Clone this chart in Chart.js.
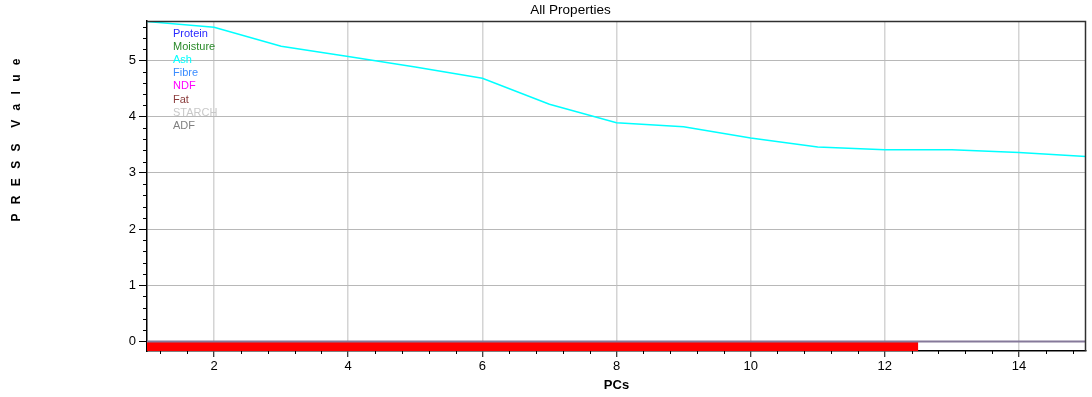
<!DOCTYPE html>
<html>
<head>
<meta charset="utf-8">
<script src="https://cdn.jsdelivr.net/npm/chart.js@4/dist/chart.umd.min.js"></script>
<style>
  html, body { margin: 0; padding: 0; background: #ffffff; }
  #wrap { width: 1092px; height: 397px; position: relative; }
</style>
</head>
<body>
<div id="wrap"><canvas id="press"></canvas></div>
<script>
// Number of principal components
const pcs = [1, 2, 3, 4, 5, 6, 7, 8, 9, 10, 11, 12, 13, 14, 15];
// PRESS values for Ash (the only property with a curve)
const ashPress = [5.69, 5.59, 5.25, 5.07, 4.88, 4.68, 4.22, 3.89, 3.82, 3.62, 3.46, 3.41, 3.41, 3.36, 3.29];
// Properties and their colours
const properties = ['Protein', 'Moisture', 'Ash', 'Fibre', 'NDF', 'Fat', 'STARCH', 'ADF'];
const propertyColors = ['#2a2aff', '#2a8a2a', '#00ffff', '#3a8cff', '#ff00ff', '#8b3c3c', '#c8c8c8', '#808080'];
const pressByProperty = { Ash: ashPress };
// Selected range of PCs (red band under the zero line)
const selectedPcs = [1, 12.5];
// Axis ticks
const xTickValues = [2, 4, 6, 8, 10, 12, 14];
const yTickValues = [0, 1, 2, 3, 4, 5];
const xRange = [1, 15];
const yRange = [-0.17, 5.70];

const FONT = 'Liberation Sans, Arial, sans-serif';

const datasets = properties.map((name, i) => ({
  label: name,
  data: (pressByProperty[name] || []).map((v, k) => ({ x: pcs[k], y: v })),
  borderColor: propertyColors[i],
  backgroundColor: propertyColors[i],
  borderWidth: 1.5,
  pointRadius: 0,
  tension: 0,
  fill: false,
  order: 1
}));

// zero baseline across the full PC range
datasets.push({
  label: '_zero',
  data: [{ x: xRange[0], y: 0 }, { x: xRange[1], y: 0 }],
  borderColor: '#85799a',
  borderWidth: 2,
  pointRadius: 0,
  fill: false,
  order: 0
});
// selected PCs band
datasets.push({
  label: '_selection',
  data: selectedPcs.map(x => ({ x: x, y: yRange[0] })),
  borderWidth: 0,
  borderColor: 'rgba(0,0,0,0)',
  backgroundColor: '#ff0000',
  pointRadius: 0,
  fill: 'origin',
  order: 2
});

// draws a string one glyph at a time with extra tracking, centred on (0,0)
function drawSpaced(ctx, text, tracking) {
  const chars = Array.from(text);
  const widths = chars.map(c => ctx.measureText(c).width);
  const total = widths.reduce((s, w) => s + w, 0) + tracking * (chars.length - 1);
  let x = -total / 2;
  ctx.textAlign = 'left';
  chars.forEach((c, i) => {
    ctx.fillText(c, x, 0);
    x += widths[i] + tracking;
  });
}

const decorations = {
  id: 'decorations',
  afterDatasetsDraw(chart) {
    const ctx = chart.ctx;
    const a = chart.chartArea;
    const xs = chart.scales.x, ys = chart.scales.y;
    ctx.save();
    // frame top & right
    ctx.strokeStyle = '#303030';
    ctx.lineWidth = 1.5;
    ctx.beginPath();
    ctx.moveTo(a.left, a.top + 0.5);
    ctx.lineTo(a.right - 0.5, a.top + 0.5);
    ctx.lineTo(a.right - 0.5, a.bottom);
    ctx.stroke();
    // minor ticks
    ctx.strokeStyle = '#000000';
    ctx.lineWidth = 1;
    ctx.beginPath();
    for (let v = 1.2; v < xRange[1]; v += 0.4) {
      const r = Math.round(v * 10) / 10;
      if (xTickValues.includes(r)) continue;
      const px = Math.round(xs.getPixelForValue(r)) + 0.5;
      ctx.moveTo(px, a.bottom);
      ctx.lineTo(px, a.bottom + 3);
    }
    for (let v = 0.2; v < yRange[1]; v += 0.2) {
      const r = Math.round(v * 10) / 10;
      if (Number.isInteger(r)) continue;
      const py = Math.round(ys.getPixelForValue(r)) + 0.5;
      ctx.moveTo(a.left, py);
      ctx.lineTo(a.left - 4, py);
    }
    ctx.stroke();

    // legend text inside the plot
    ctx.font = '11px ' + FONT;
    ctx.textBaseline = 'middle';
    ctx.textAlign = 'left';
    chart.data.datasets.filter(d => !d.label.startsWith('_')).forEach((d, i) => {
      ctx.fillStyle = d.borderColor;
      ctx.fillText(d.label, a.left + 26, a.top + 13 + i * 13.1);
    });

    // chart title
    ctx.fillStyle = '#000000';
    ctx.font = '13.5px ' + FONT;
    ctx.textAlign = 'center';
    ctx.fillText('All Properties', 570.5, 10);

    // y axis title with spaced letters
    ctx.translate(17, 140);
    ctx.rotate(-Math.PI / 2);
    ctx.font = 'bold 12px ' + FONT;
    drawSpaced(ctx, 'P R E S S  V a l u e', 3);
    ctx.restore();
  }
};

new Chart(document.getElementById('press'), {
  type: 'line',
  data: { datasets: datasets },
  options: {
    responsive: true,
    maintainAspectRatio: false,
    animation: false,
    layout: { padding: { top: 21, right: 6, left: 0, bottom: 0 } },
    plugins: {
      legend: { display: false },
      title: { display: false },
      tooltip: { enabled: false }
    },
    scales: {
      x: {
        type: 'linear',
        min: xRange[0],
        max: xRange[1],
        afterBuildTicks: s => { s.ticks = xTickValues.map(v => ({ value: v })); },
        afterFit: s => { s.height = 46; },
        ticks: { color: '#000000', font: { family: FONT, size: 13 }, padding: 2, maxRotation: 0, autoSkip: false },
        grid: { color: '#d4d4d4', lineWidth: 1.5, tickColor: '#000000', tickLength: 6, tickWidth: 1 },
        border: { color: '#000000', width: 1.5 },
        title: { display: true, text: 'PCs', color: '#000000', font: { family: FONT, size: 13, weight: 'bold' }, padding: { top: 0, bottom: 4 } }
      },
      y: {
        type: 'linear',
        min: yRange[0],
        max: yRange[1],
        afterBuildTicks: s => { s.ticks = yTickValues.map(v => ({ value: v })); },
        afterFit: s => { s.width = 147; },
        ticks: { color: '#000000', font: { family: FONT, size: 13 }, padding: 3, autoSkip: false },
        grid: {
          color: c => c.tick && c.tick.value === 0 ? 'rgba(0,0,0,0)' : '#b8b8b8',
          lineWidth: 1,
          tickColor: '#000000',
          tickLength: 8
        },
        border: { color: '#000000', width: 1.5 }
      }
    }
  },
  plugins: [decorations]
});
</script>
</body>
</html>
